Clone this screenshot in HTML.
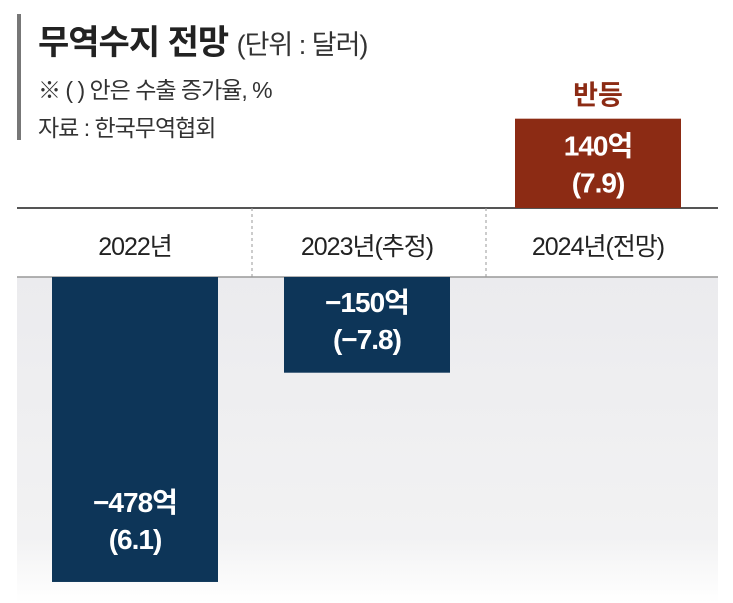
<!DOCTYPE html>
<html><head><meta charset="utf-8"><style>
body{margin:0;width:733px;height:603px;background:#fff;overflow:hidden;font-family:"Liberation Sans","Noto Sans CJK KR",sans-serif;}
svg{display:block}
</style></head><body>
<svg width="733" height="603">
<defs><linearGradient id="bg" x1="0" y1="0" x2="0" y2="1"><stop offset="0" stop-color="#ebebee"/><stop offset="0.8" stop-color="#f2f2f3"/><stop offset="1" stop-color="#ffffff"/></linearGradient></defs>
<rect x="17" y="14" width="4" height="126" fill="#777"/>
<text x="38" y="54" font-size="34" font-weight="bold" fill="#222" letter-spacing="-1">무역수지 전망 <tspan font-size="27" font-weight="normal" fill="#333">(단위 : 달러)</tspan></text>
<text x="38" y="98" font-size="23" fill="#333" letter-spacing="-1">※ (  ) 안은 수출 증가율, %</text>
<text x="38" y="136" font-size="23" fill="#333" letter-spacing="-1">자료 : 한국무역협회</text>
<rect x="17" y="277" width="701" height="326" fill="url(#bg)"/>
<line x1="17" y1="208" x2="718" y2="208" stroke="#555" stroke-width="2"/>
<line x1="17" y1="277" x2="718" y2="277" stroke="#999" stroke-width="1.5"/>
<line x1="252" y1="208" x2="252" y2="277" stroke="#999" stroke-dasharray="3,3"/>
<line x1="486" y1="208" x2="486" y2="277" stroke="#999" stroke-dasharray="3,3"/>
<g id="bars"></g>
</svg>
<script>
const categories=["2022년","2023년(추정)","2024년(전망)"];
const values=[-478,-150,140];
const growth=["6.1","-7.8","7.9"];
const zeroY=208, bandBottom=277, pxPer=0.638;
const centers=[135,367,598], barW=166;
const g=document.getElementById('bars');
const NS="http://www.w3.org/2000/svg";
function mk(t,a){const e=document.createElementNS(NS,t);for(const k in a)e.setAttribute(k,a[k]);return e;}
categories.forEach((c,i)=>{
  const lab=mk('text',{x:centers[i],y:255,'font-size':25,'text-anchor':'middle',fill:'#222','letter-spacing':'-1'});
  
  
  lab.textContent=c;g.appendChild(lab);
  const v=values[i],h=Math.abs(v)*pxPer;
  const neg=v<0;
  const y=neg?bandBottom:zeroY-h;
  const r=mk('rect',{x:centers[i]-barW/2,y:y,width:barW,height:h,fill:neg?'#0d3558':'#8c2b14'});
  
  
  g.appendChild(r);
  const vs=(v<0?'−':'')+Math.abs(v)+'억', gs='('+growth[i].replace('-','−')+')';
  let ty=neg?(h>200?y+h-70:y+35):y+37;
  const t1=mk('text',{x:centers[i],y:ty,'font-size':28,'font-weight':'bold','text-anchor':'middle',fill:'#fff','letter-spacing':'-1'});
  
  
  t1.textContent=vs;g.appendChild(t1);
  const t2=mk('text',{x:centers[i],y:ty+37,'font-size':28,'font-weight':'bold','text-anchor':'middle',fill:'#fff','letter-spacing':'-1'});
  
  
  t2.textContent=gs;g.appendChild(t2);
  if(!neg){
    const a=mk('text',{x:centers[i],y:y-14,'font-size':27,'font-weight':'bold','text-anchor':'middle',fill:'#8c2b14'});
    
    
    a.textContent='반등';g.appendChild(a);
  }
});
</script>
</body></html>
